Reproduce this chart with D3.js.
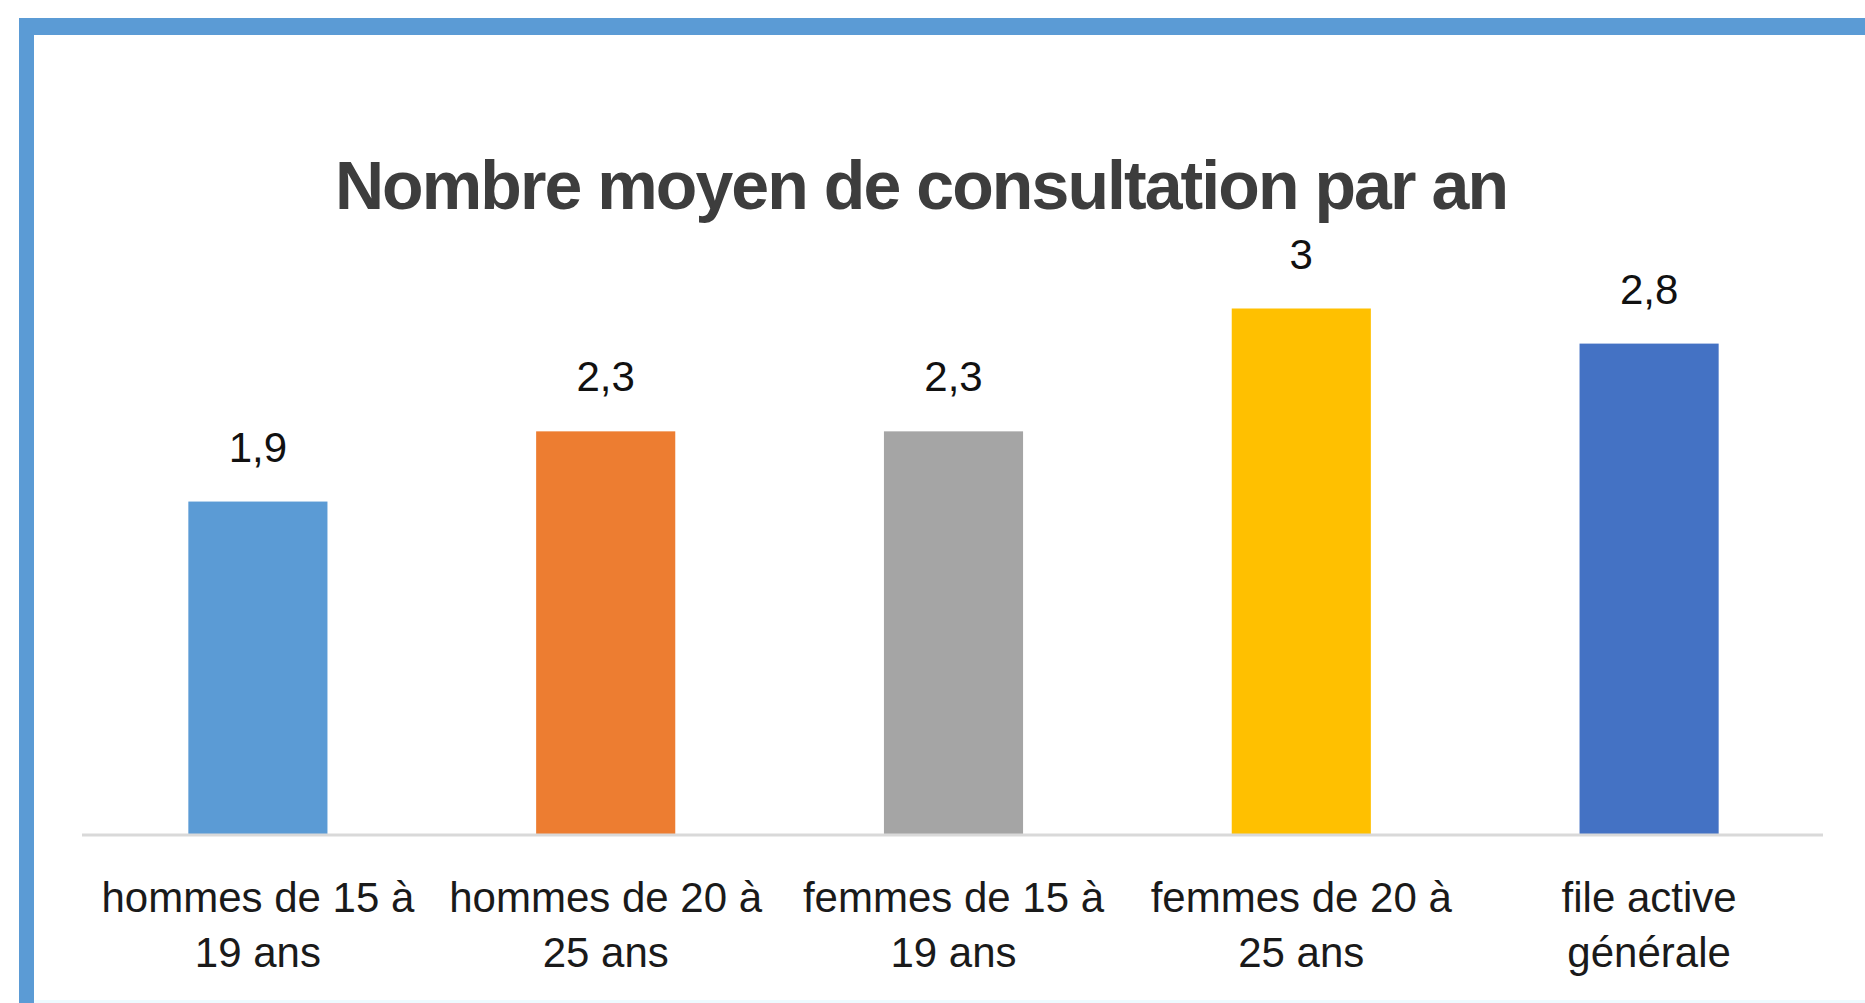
<!DOCTYPE html>
<html>
<head>
<meta charset="utf-8">
<script src="https://cdn.jsdelivr.net/npm/d3@7/dist/d3.min.js"></script>
<style>
  html, body { margin: 0; padding: 0; background: #fff; }
  svg { display: block; }
</style>
</head>
<body>
<svg id="chart" width="1865" height="1003"></svg>
<script>
const title = "Nombre moyen de consultation par an";
const categories = [
  "hommes de 15 à\n19 ans",
  "hommes de 20 à\n25 ans",
  "femmes de 15 à\n19 ans",
  "femmes de 20 à\n25 ans",
  "file active\ngénérale"
];
const values = [1.9, 2.3, 2.3, 3, 2.8];
const valueLabels = ["1,9", "2,3", "2,3", "3", "2,8"];
const colors = ["#5b9bd5", "#ed7d31", "#a5a5a5", "#ffc000", "#4472c4"];
const yDomain = [0, 3.5];

const svg = d3.select("#chart");
const W = 1865, H = 1003;

// frame
svg.append("rect").attr("x", 0).attr("y", 0).attr("width", W).attr("height", H).attr("fill", "#fff");
svg.append("rect").attr("x", 19).attr("y", 18).attr("width", W - 19).attr("height", 17).attr("fill", "#5b9bd5");
svg.append("rect").attr("x", 19).attr("y", 18).attr("width", 15).attr("height", H - 18).attr("fill", "#5b9bd5");
svg.append("rect").attr("x", 34).attr("y", H - 3).attr("width", W - 34).attr("height", 3).attr("fill", "#eefaff");

const x = d3.scaleBand().domain(categories).range([84, 1823]).paddingInner(0.6).paddingOuter(0.3);
const y = d3.scaleLinear().domain(yDomain).range([835, 835 - 3.5 * 175.5]);

// bars
svg.append("g").selectAll("rect").data(values).join("rect")
  .attr("x", (d, i) => x(categories[i]))
  .attr("y", d => y(d))
  .attr("width", x.bandwidth())
  .attr("height", d => y(0) - y(d))
  .attr("fill", (d, i) => colors[i]);

// axis
const axis = d3.axisBottom(x).tickSize(0).tickFormat("");
const gAxis = svg.append("g").attr("transform", `translate(0,${y(0)})`).call(axis);
gAxis.select(".domain").attr("stroke", "#d9d9d9").attr("stroke-width", 3).attr("d", `M82,0H1823`);

// category labels
const lab = svg.append("g")
  .attr("font-family", "'Liberation Sans', Arial, sans-serif")
  .attr("font-size", 42)
  .attr("fill", "#1a1a1a")
  .attr("text-anchor", "middle");
categories.forEach((c, i) => {
  const cx = x(c) + x.bandwidth() / 2;
  c.split("\n").forEach((line, j) => {
    lab.append("text").attr("x", cx).attr("y", 912 + j * 55).text(line);
  });
});

// value labels
svg.append("g")
  .attr("font-family", "'Liberation Sans', Arial, sans-serif")
  .attr("font-size", 42)
  .attr("fill", "#111")
  .attr("text-anchor", "middle")
  .selectAll("text").data(values).join("text")
  .attr("x", (d, i) => x(categories[i]) + x.bandwidth() / 2)
  .attr("y", d => y(d) - 40)
  .text((d, i) => valueLabels[i]);

// title
const t = svg.append("text")
  .attr("x", 921).attr("y", 209)
  .attr("text-anchor", "middle")
  .attr("font-family", "'Liberation Sans', Arial, sans-serif")
  .attr("font-weight", "bold")
  .attr("font-size", 68)
  .attr("fill", "#3d3d3d")
  .text(title);
const targetW = 1174;
const natural = t.node().getComputedTextLength();
const ls = (targetW - natural) / (title.length - 1);
t.attr("letter-spacing", ls.toFixed(2));
</script>
</body>
</html>
